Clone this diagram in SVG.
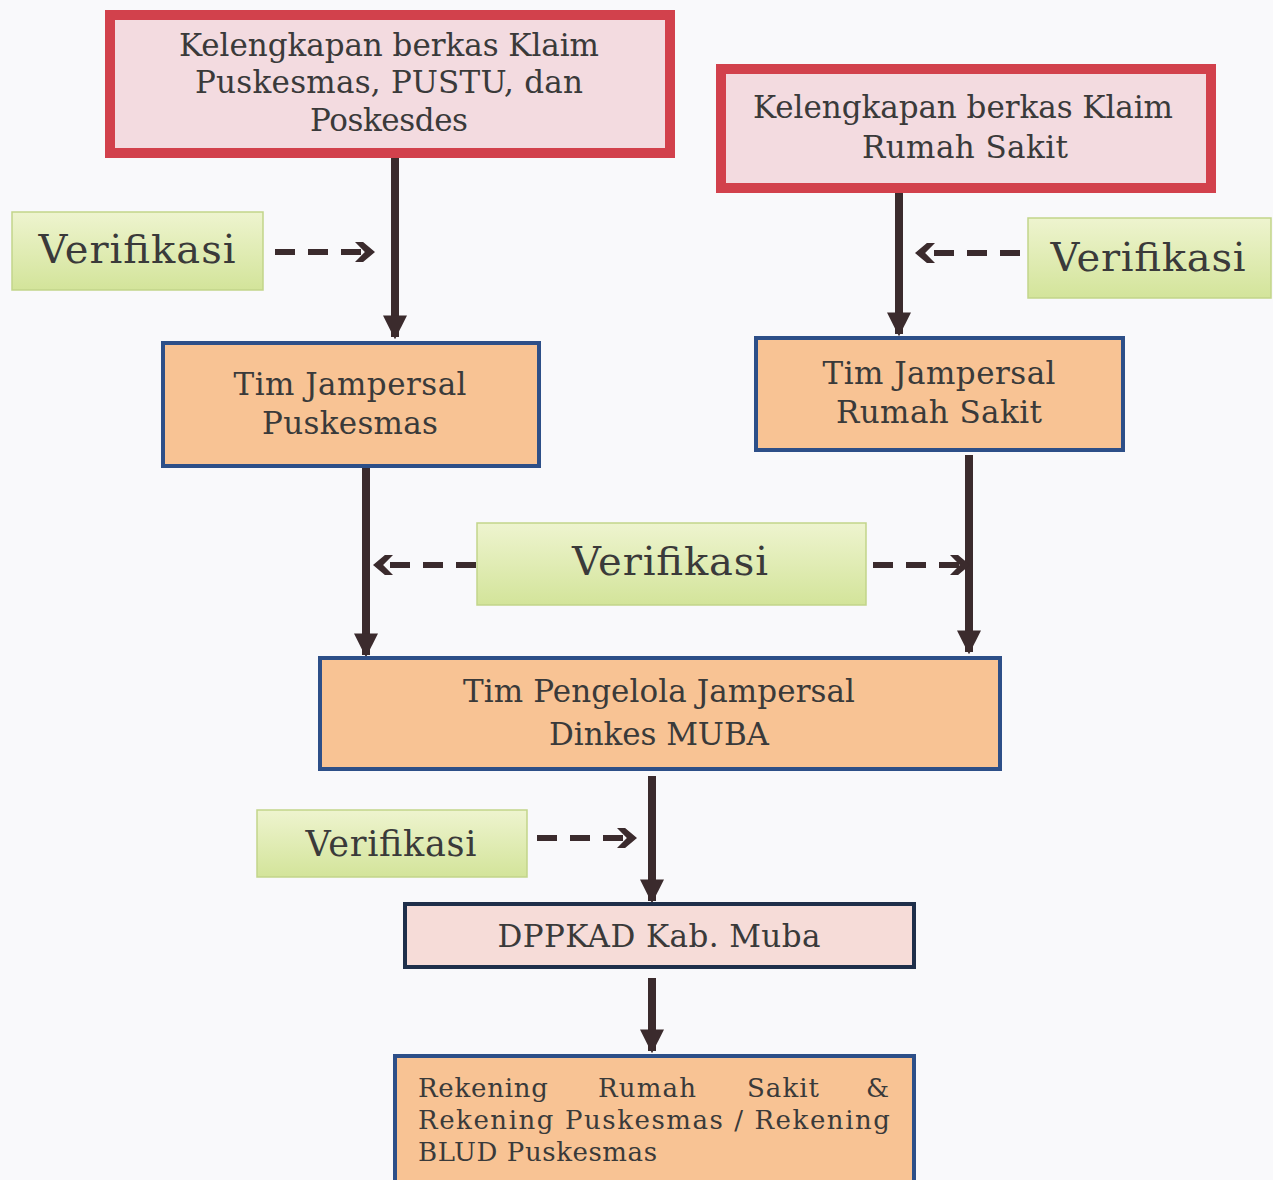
<svg xmlns="http://www.w3.org/2000/svg" width="1273" height="1180" viewBox="0 0 1273 1180">
<defs>
<linearGradient id="g" x1="0" y1="0" x2="0" y2="1"><stop offset="0" stop-color="#eef4cf"/><stop offset="1" stop-color="#d3e49a"/></linearGradient>
<marker id="ah" viewBox="0 0 10 10" refX="9" refY="5" markerWidth="3" markerHeight="3" orient="auto" markerUnits="strokeWidth"><path d="M0,0 L10,5 L0,10 z" fill="#3b2b2d"/></marker>
<marker id="dh" viewBox="0 0 10 10" refX="8" refY="5" markerWidth="3.4" markerHeight="3.4" orient="auto" markerUnits="strokeWidth"><path d="M0,0 L4,0 L10,5 L4,10 L0,10 L5,5 z" fill="#3b2b2d"/></marker>
<style>
.red{fill:#f3dbe0;stroke:#d2414c;stroke-width:10}
.org{fill:#f8c394;stroke:#2d4f88;stroke-width:4}
.pnk{fill:#f6dcd8;stroke:#1f2f4a;stroke-width:4}
.ver{fill:url(#g);stroke:#c2d58a;stroke-width:1.5}
text{font-family:"DejaVu Serif","Liberation Serif",serif;fill:#3a3a3a;text-anchor:middle}
.t28{font-size:31px}
.tv{font-size:40px}
.tf{font-size:26px;text-anchor:start}
.solid{stroke:#3b2b2d;stroke-width:8;fill:none;marker-end:url(#ah)}
.dash{stroke:#3b2b2d;stroke-width:6;fill:none;stroke-dasharray:20 13;marker-end:url(#dh)}
</style>
</defs>
<rect width="1273" height="1180" fill="#f9f9fb"/>
<g id="connectors">
<line class="solid" x1="395" y1="158" x2="395" y2="337"/>
<line class="solid" x1="899" y1="190" x2="899" y2="334"/>
<line class="solid" x1="366" y1="467" x2="366" y2="655"/>
<line class="solid" x1="969" y1="455" x2="969" y2="652"/>
<line class="solid" x1="652" y1="776" x2="652" y2="901"/>
<line class="solid" x1="652" y1="978" x2="652" y2="1051"/>
<line class="dash" x1="275" y1="252" x2="371" y2="252"/>
<line class="dash" x1="1020" y1="253" x2="919" y2="253"/>
<line class="dash" x1="476" y1="565" x2="377" y2="565"/>
<line class="dash" x1="873" y1="565" x2="966" y2="565"/>
<line class="dash" x1="537" y1="838" x2="633" y2="838"/>
</g>
<g id="n1"><rect class="red" x="110" y="15" width="560" height="138"/>
<text class="t28" x="389" y="56" textLength="420">Kelengkapan berkas Klaim</text>
<text class="t28" x="389" y="93" textLength="388">Puskesmas, PUSTU, dan</text>
<text class="t28" x="389" y="131" textLength="158">Poskesdes</text></g>
<g id="n2"><rect class="red" x="721" y="69" width="490" height="119"/>
<text class="t28" x="963" y="118" textLength="420">Kelengkapan berkas Klaim</text>
<text class="t28" x="965" y="158" textLength="206">Rumah Sakit</text></g>
<g id="v1"><rect class="ver" x="12" y="212" width="251" height="78"/>
<text class="tv" x="137" y="263" textLength="197">Verifikasi</text></g>
<g id="v2"><rect class="ver" x="1028" y="218" width="243" height="80"/>
<text class="tv" x="1148" y="271" textLength="195">Verifikasi</text></g>
<g id="n3"><rect class="org" x="163" y="343" width="376" height="123"/>
<text class="t28" x="350" y="395" textLength="233">Tim Jampersal</text>
<text class="t28" x="350" y="434" textLength="176">Puskesmas</text></g>
<g id="n4"><rect class="org" x="756" y="338" width="367" height="112"/>
<text class="t28" x="939" y="384" textLength="233">Tim Jampersal</text>
<text class="t28" x="939" y="423" textLength="206">Rumah Sakit</text></g>
<g id="v3"><rect class="ver" x="477" y="523" width="389" height="82"/>
<text class="tv" x="670" y="575" textLength="196">Verifikasi</text></g>
<g id="n5"><rect class="org" x="320" y="658" width="680" height="111"/>
<text class="t28" x="659" y="702" textLength="392">Tim Pengelola Jampersal</text>
<text class="t28" x="659" y="745" textLength="220">Dinkes MUBA</text></g>
<g id="v4"><rect class="ver" x="257" y="810" width="270" height="67"/>
<text class="tv" x="391" y="856" style="font-size:35px" textLength="171">Verifikasi</text></g>
<g id="n6"><rect class="pnk" x="405" y="904" width="509" height="63"/>
<text class="t28" x="659" y="947" textLength="323">DPPKAD Kab. Muba</text></g>
<g id="n7"><rect class="org" x="395" y="1056" width="519" height="130"/>
<text class="tf" x="418" y="1097" textLength="130">Rekening</text>
<text class="tf" x="598" y="1097" textLength="98">Rumah</text>
<text class="tf" x="747" y="1097" textLength="72">Sakit</text>
<text class="tf" x="866" y="1097">&amp;</text>
<text class="tf" x="418" y="1129" textLength="472">Rekening Puskesmas / Rekening</text>
<text class="tf" x="418" y="1161" textLength="239">BLUD Puskesmas</text></g>
</svg>
